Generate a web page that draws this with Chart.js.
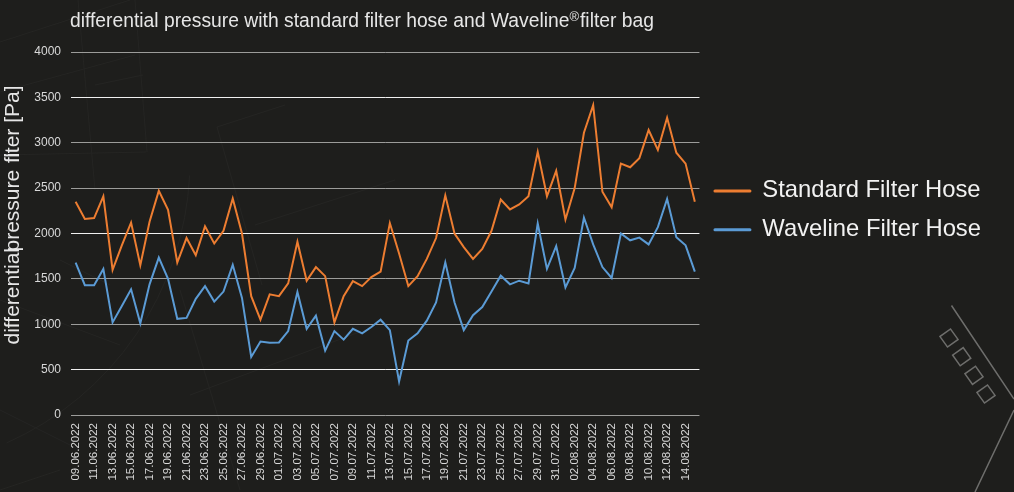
<!DOCTYPE html>
<html>
<head>
<meta charset="utf-8">
<title>differential pressure</title>
<script src="https://cdn.jsdelivr.net/npm/chart.js@4"></script>
<style>
html, body { margin: 0; padding: 0; background: #1e1e1c; }
#wrap { position: relative; width: 1014px; height: 492px; }
</style>
</head>
<body>
<div id="wrap"><canvas id="lineChart"></canvas></div>
<script>
const arrDates = [
    '09.06.2022','10.06.2022','11.06.2022','12.06.2022','13.06.2022','14.06.2022','15.06.2022','16.06.2022',
    '17.06.2022','18.06.2022','19.06.2022','20.06.2022','21.06.2022','22.06.2022','23.06.2022','24.06.2022',
    '25.06.2022','26.06.2022','27.06.2022','28.06.2022','29.06.2022','30.06.2022','01.07.2022','02.07.2022',
    '03.07.2022','04.07.2022','05.07.2022','06.07.2022','07.07.2022','08.07.2022','09.07.2022','10.07.2022',
    '11.07.2022','12.07.2022','13.07.2022','14.07.2022','15.07.2022','16.07.2022','17.07.2022','18.07.2022',
    '19.07.2022','20.07.2022','21.07.2022','22.07.2022','23.07.2022','24.07.2022','25.07.2022','26.07.2022',
    '27.07.2022','28.07.2022','29.07.2022','30.07.2022','31.07.2022','01.08.2022','02.08.2022','03.08.2022',
    '04.08.2022','05.08.2022','06.08.2022','07.08.2022','08.08.2022','09.08.2022','10.08.2022','11.08.2022',
    '12.08.2022','13.08.2022','14.08.2022','15.08.2022'
];
const arrStandard = [
    2350,2160,2170,2410,1600,1870,2120,1650,2130,2470,2260,1680,1950,1760,2080,1890,2030,2385,2000,1310,
    1050,1330,1310,1450,1910,1480,1630,1530,1020,1310,1475,1420,1520,1580,2115,1780,1420,1530,1720,1950,
    2420,2000,1850,1720,1830,2030,2375,2265,2320,2410,2900,2410,2690,2155,2500,3110,3415,2460,2290,2770,
    2730,2830,3140,2920,3275,2890,2770,2350
];
const arrWaveline = [
    1680,1430,1430,1610,1020,1200,1385,1010,1440,1735,1500,1060,1070,1280,1420,1250,1360,1655,1290,640,
    810,795,800,925,1355,950,1095,710,925,830,950,900,970,1050,935,370,820,900,1040,1240,
    1680,1240,935,1100,1190,1360,1535,1440,1480,1450,2110,1610,1860,1405,1620,2175,1880,1630,1510,2000,
    1925,1955,1880,2070,2380,1960,1870,1580
];

// the dim drawing behind the chart, not data
const backdrop = {
    id: 'backdrop',
    beforeDraw(chart) {
        const ctx = chart.ctx;
        ctx.save();
        ctx.fillStyle = '#1e1e1c';
        ctx.fillRect(0, 0, chart.width, chart.height);

        ctx.strokeStyle = '#252523';
        ctx.lineWidth = 1;
        const faint = [
            [[0, 42], [130, 0]], [[0, 92], [135, 55]], [[95, 85], [143, 75]], [[0, 155], [146, 152]],
            [[135, 0], [147, 152]], [[78, 0], [95, 190]], [[217, 127], [285, 105]], [[217, 127], [262, 285]],
            [[0, 300], [120, 345]], [[60, 260], [110, 285]], [[0, 410], [80, 450]], [[180, 290], [240, 490]],
            [[190, 395], [365, 330]], [[0, 490], [60, 470]], [[255, 225], [395, 180]]
        ];
        faint.forEach(seg => {
            ctx.beginPath();
            ctx.moveTo(seg[0][0], seg[0][1]);
            ctx.lineTo(seg[1][0], seg[1][1]);
            ctx.stroke();
        });
        ctx.beginPath();
        ctx.arc(-120, 160, 310, 0.05, 1.15);
        ctx.stroke();

        ctx.strokeStyle = '#6e6e6c';
        ctx.lineWidth = 1.5;
        ctx.beginPath();
        ctx.moveTo(951.5, 305.5);
        ctx.lineTo(1014, 399);
        ctx.moveTo(1014, 410);
        ctx.lineTo(975, 492);
        ctx.stroke();
        [[949, 338], [961.7, 356.7], [974, 375.3], [986, 394]].forEach(c => {
            ctx.save();
            ctx.translate(c[0], c[1]);
            ctx.rotate(-0.62);
            ctx.strokeRect(-6.5, -6.5, 13, 13);
            ctx.restore();
        });
        ctx.restore();
    },
    // axis title comes in overlapping pieces in the original, title has a raised (R)
    afterDraw(chart) {
        const ctx = chart.ctx;
        ctx.save();
        ctx.fillStyle = '#e6e6e6';
        ctx.textBaseline = 'alphabetic';
        ctx.textAlign = 'left';
        const strTitle = 'differential pressure with standard filter hose and Waveline';
        ctx.font = '19.3px "Liberation Sans"';
        ctx.fillText(strTitle, 70, 26.5);
        let x = 70 + ctx.measureText(strTitle).width;
        ctx.font = '13px "Liberation Sans"';
        ctx.fillText('®', x, 21);
        x += ctx.measureText('®').width + 1;
        ctx.font = '19.3px "Liberation Sans"';
        ctx.fillText('filter bag', x, 26.5);

        ctx.translate(19, 0);
        ctx.rotate(-Math.PI / 2);
        ctx.font = '21px "Liberation Sans"';
        ctx.fillText('differential', -344.5, 0);
        ctx.fillText('pressure', -251.5, 0);
        ctx.fillText('fi', -163, 0);
        ctx.textAlign = 'right';
        ctx.fillText('lter [Pa]', -85.5, 0);
        ctx.restore();
    }
};

const gridWhite = [3500, 2000, 500];

new Chart(document.getElementById('lineChart'), {
    type: 'line',
    data: {
        labels: arrDates,
        datasets: [
            { label: 'Standard Filter Hose', data: arrStandard, borderColor: '#ed7d31', backgroundColor: '#ed7d31', borderWidth: 2, pointRadius: 0, tension: 0 },
            { label: 'Waveline Filter Hose', data: arrWaveline, borderColor: '#5b9bd5', backgroundColor: '#5b9bd5', borderWidth: 2, pointRadius: 0, tension: 0 }
        ]
    },
    plugins: [backdrop],
    options: {
        responsive: true,
        maintainAspectRatio: false,
        animation: false,
        layout: { padding: { left: 0, right: 23, top: 52, bottom: 0 } },
        plugins: {
            title: { display: false },
            legend: {
                position: 'right',
                align: 'start',
                maxWidth: 315,
                title: { display: true, text: ' ', font: { size: 10 }, padding: { top: 0, bottom: 100 } },
                labels: {
                    color: '#f2f2f2',
                    font: { family: '"Liberation Sans"', size: 23.8 },
                    boxWidth: 36,
                    boxHeight: 1,
                    padding: 15,
                    useBorderRadius: true,
                    borderRadius: 0.5
                }
            },
            tooltip: { enabled: false }
        },
        scales: {
            x: {
                offset: true,
                afterFit: scale => { scale.height = 77; },
                grid: { display: false, offset: true },
                border: { display: false },
                ticks: {
                    autoSkip: false,
                    maxRotation: 90,
                    minRotation: 90,
                    padding: 0,
                    color: '#d9d9d9',
                    font: { family: '"Liberation Sans"', size: 11.5 },
                    callback(value, index) {
                        return index % 2 === 0 ? this.getLabelForValue(value) : '';
                    }
                }
            },
            y: {
                min: 0,
                max: 4000,
                afterFit: scale => { scale.width = 71; },
                border: { display: false },
                grid: {
                    drawTicks: false,
                    color: ctx => gridWhite.includes(ctx.tick.value) ? '#f0f0f0' : '#9c9c9a'
                },
                ticks: {
                    stepSize: 500,
                    padding: 10,
                    color: '#d9d9d9',
                    font: { family: '"Liberation Sans"', size: 12 },
                    callback: value => String(value)
                }
            }
        }
    }
});
</script>
</body>
</html>
